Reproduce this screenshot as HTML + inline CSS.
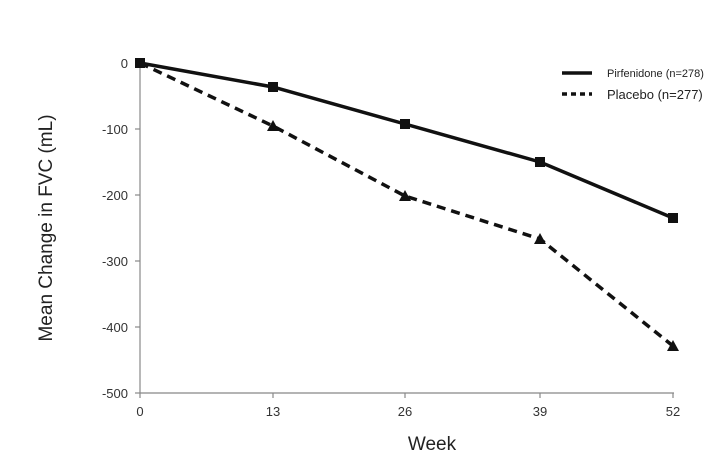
<!DOCTYPE html>
<html><head><style>body{margin:0;background:#fff}</style></head><body>
<svg width="722" height="459" xmlns="http://www.w3.org/2000/svg" font-family="Liberation Sans, sans-serif">
<rect width="722" height="459" fill="#fff"/>
<g stroke="#888" stroke-width="1.2">
<line x1="140" y1="63" x2="140" y2="393"/>
<line x1="140" y1="393" x2="674" y2="393"/>
<line x1="135" y1="63" x2="140" y2="63"/><line x1="135" y1="129" x2="140" y2="129"/><line x1="135" y1="195" x2="140" y2="195"/><line x1="135" y1="261" x2="140" y2="261"/><line x1="135" y1="327" x2="140" y2="327"/><line x1="135" y1="393" x2="140" y2="393"/>
<line x1="140" y1="393" x2="140" y2="398"/><line x1="273" y1="393" x2="273" y2="398"/><line x1="405" y1="393" x2="405" y2="398"/><line x1="540" y1="393" x2="540" y2="398"/><line x1="673" y1="393" x2="673" y2="398"/>
</g>
<g font-size="13" fill="#333" text-anchor="end">
<text x="128" y="68">0</text><text x="128" y="134">-100</text><text x="128" y="200">-200</text><text x="128" y="266">-300</text><text x="128" y="332">-400</text><text x="128" y="398">-500</text>
</g>
<g font-size="13" fill="#333" text-anchor="middle">
<text x="140" y="416">0</text><text x="273" y="416">13</text><text x="405" y="416">26</text><text x="540" y="416">39</text><text x="673" y="416">52</text>
</g>
<text x="432" y="450" font-size="19" fill="#222" text-anchor="middle">Week</text>
<text transform="translate(52,228) rotate(-90)" font-size="19" fill="#222" text-anchor="middle">Mean Change in FVC (mL)</text>
<polyline points="140,63 273,87 405,124 540,162 673,218" fill="none" stroke="#111" stroke-width="3.5"/>
<polyline points="140,63 273,126 405,196 540,239 673,346" fill="none" stroke="#111" stroke-width="3.5" stroke-dasharray="9,6"/>
<g fill="#111">
<rect x="135" y="58" width="10" height="10"/><rect x="268" y="82" width="10" height="10"/><rect x="400" y="119" width="10" height="10"/><rect x="535" y="157" width="10" height="10"/><rect x="668" y="213" width="10" height="10"/>
<polygon points="273,120 279,131 267,131"/><polygon points="405,190 411,201 399,201"/><polygon points="540,233 546,244 534,244"/><polygon points="673,340 679,351 667,351"/>
</g>
<line x1="562" y1="73" x2="592" y2="73" stroke="#111" stroke-width="3.5"/>
<line x1="562" y1="94" x2="592" y2="94" stroke="#111" stroke-width="3.5" stroke-dasharray="5,4"/>
<text x="607" y="77" font-size="11" fill="#222">Pirfenidone (n=278)</text>
<text x="607" y="99" font-size="13" fill="#222">Placebo (n=277)</text>
</svg>
</body></html>
